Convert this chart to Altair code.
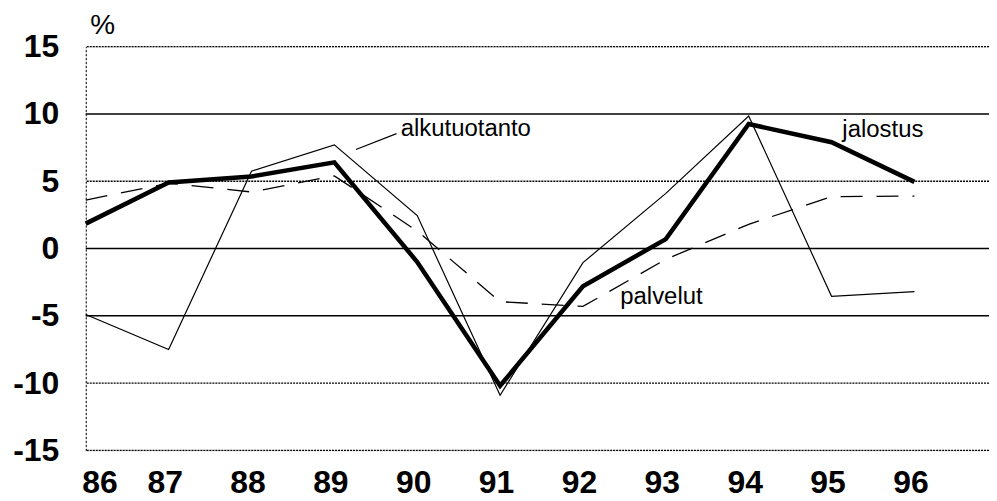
import altair as alt
import pandas as pd

years = [86, 87, 88, 89, 90, 91, 92, 93, 94, 95, 96]
jalostus = [1.85, 4.9, 5.35, 6.4, -1.0, -10.2, -2.8, 0.7, 9.25, 7.9, 4.95]
alkutuotanto = [-4.9, -7.5, 5.75, 7.7, 2.45, -10.9, -1.05, 4.1, 9.85, -3.55, -3.2]
palvelut = [3.6, 4.85, 4.2, 5.4, 1.3, -3.95, -4.3, -0.8, 1.8, 3.85, 3.9]

y_ticks = [15, 10, 5, 0, -5, -10, -15]
solid_grid = [10, 0, -5]
dotted_grid = [15, 5, -10, -15]

label_names = ["alkutuotanto", "jalostus", "palvelut"]
label_x = [89.8, 95.13, 92.45]
label_y = [8.36, 8.32, -4.13]

leader_x = [89.26]
leader_x2 = [89.75]
leader_y = [7.36]
leader_y2 = [8.54]

FONT = "Liberation Sans"

xscale = alt.Scale(domain=[86, 96.9], nice=False, zero=False)
yscale = alt.Scale(domain=[-15, 15], nice=False, zero=False)

df = pd.DataFrame({
    "year": years * 3,
    "value": jalostus + alkutuotanto + palvelut,
    "series": ["jalostus"] * 11 + ["alkutuotanto"] * 11 + ["palvelut"] * 11,
})

x_axis = alt.Axis(
    values=years, labelFont=FONT, labelFontSize=32, labelFontWeight="bold",
    labelColor="black", ticks=False, grid=False, domain=False,
    labelPadding=17, labelOffset=-4, title=None, labelExpr="toString(datum.value)",
)
y_axis = alt.Axis(
    values=y_ticks, labelFont=FONT, labelFontSize=32, labelFontWeight="bold",
    labelColor="black", ticks=False, grid=False, domain=True,
    domainColor="black", domainDash=[2, 2], domainWidth=1,
    labelPadding=27, labelExpr="toString(datum.value)",
    title="%", titleAngle=0, titleAlign="left",
    titleBaseline="alphabetic", titleX=4, titleY=-13, titleFont=FONT,
    titleFontSize=28, titleFontWeight="normal", titleColor="black",
)

base_grid_solid = alt.Chart(pd.DataFrame({"v": solid_grid})).mark_rule(
    color="black", strokeWidth=1.6
).encode(y=alt.Y("v:Q", scale=yscale, axis=y_axis))

base_grid_dotted = alt.Chart(pd.DataFrame({"v": dotted_grid})).mark_rule(
    color="black", strokeWidth=1.4, strokeDash=[2, 1]
).encode(y=alt.Y("v:Q", scale=yscale))

x_holder = alt.Chart(pd.DataFrame({"year": years})).mark_point(opacity=0).encode(
    x=alt.X("year:Q", scale=xscale, axis=x_axis),
    y=alt.value(0),
)

def line(name, width, dash=None):
    kw = dict(color="black", strokeWidth=width, strokeJoin="miter")
    if dash:
        kw["strokeDash"] = dash
    return alt.Chart(df[df.series == name]).mark_line(**kw).encode(
        x=alt.X("year:Q", scale=xscale),
        y=alt.Y("value:Q", scale=yscale),
    )

l_pal = line("palvelut", 1.3, [22, 14])
l_alk = line("alkutuotanto", 1.2)
l_jal = line("jalostus", 4.5)

labels = alt.Chart(pd.DataFrame({"name": label_names, "x": label_x, "y": label_y})).mark_text(
    font=FONT, fontSize=24, color="black", align="left", baseline="alphabetic"
).encode(
    x=alt.X("x:Q", scale=xscale),
    y=alt.Y("y:Q", scale=yscale),
    text="name:N",
)

leader = alt.Chart(pd.DataFrame({"x": leader_x, "x2": leader_x2, "y": leader_y, "y2": leader_y2})).mark_rule(
    color="black", strokeWidth=1.2
).encode(
    x=alt.X("x:Q", scale=xscale), x2="x2:Q",
    y=alt.Y("y:Q", scale=yscale), y2="y2:Q",
)

chart = alt.layer(
    base_grid_solid, base_grid_dotted, x_holder, l_pal, l_alk, l_jal, labels, leader
).properties(
    width=906, height=405,
    autosize=alt.AutoSizeParams(type="none"),
    padding={"left": 78, "top": 38, "right": 0, "bottom": 50},
).configure_view(stroke=None).configure(background="white")

chart.save("out.html", embed_options={"renderer": "svg", "actions": False})
